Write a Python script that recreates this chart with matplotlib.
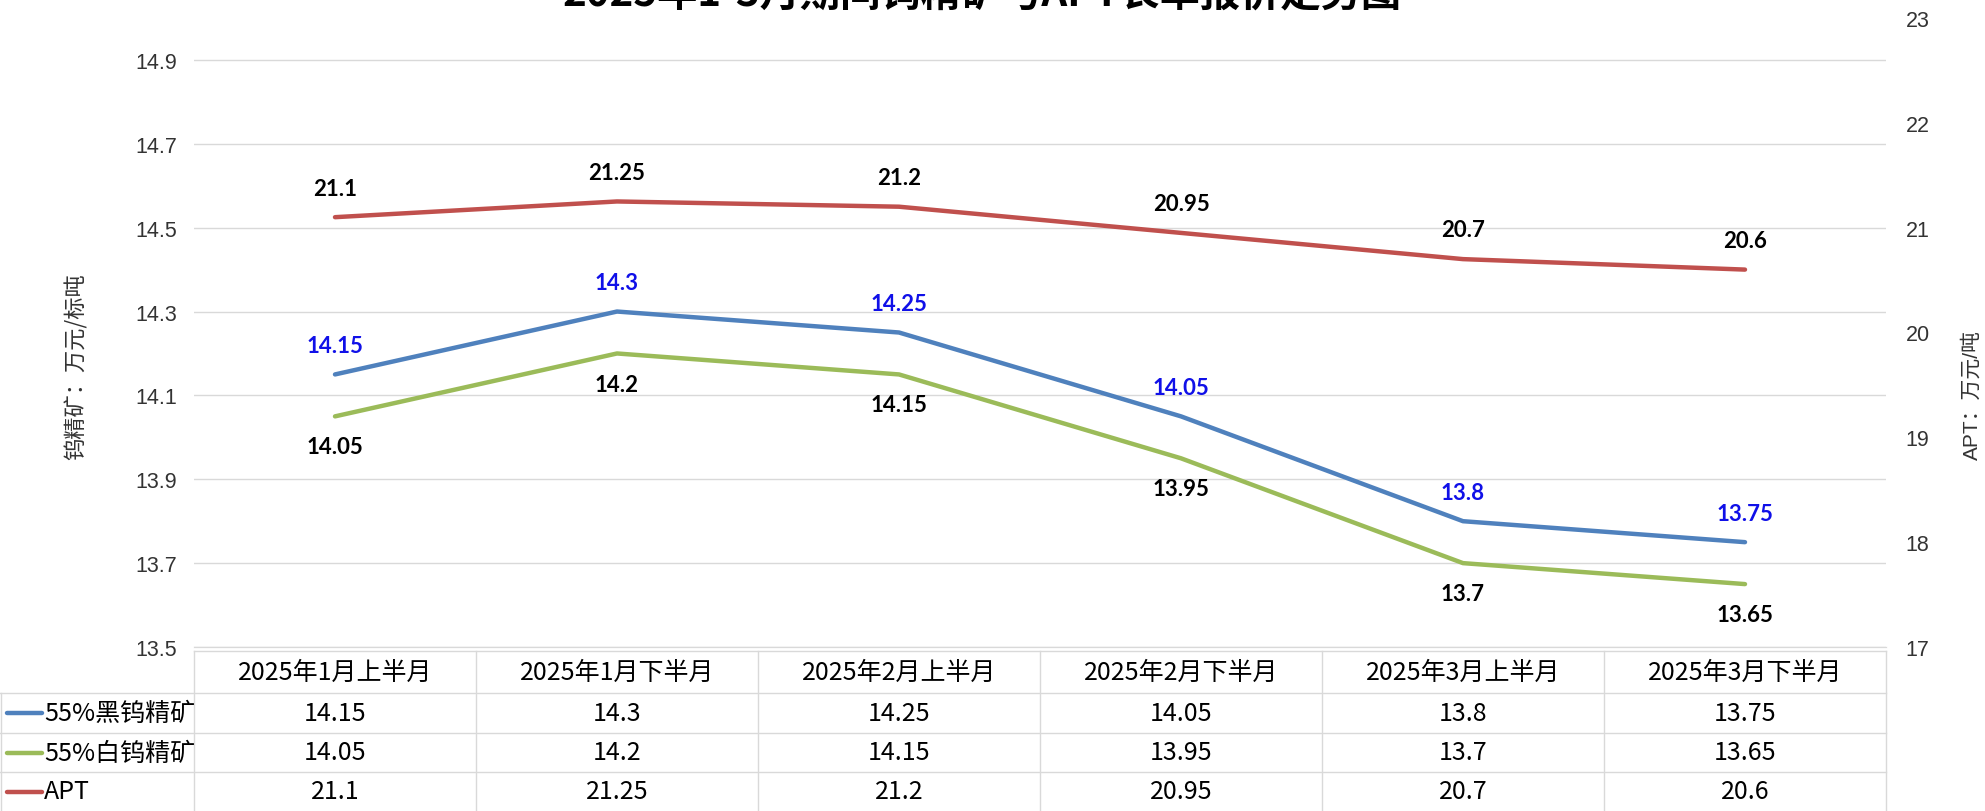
import matplotlib.pyplot as plt
from matplotlib.lines import Line2D
from matplotlib.transforms import blended_transform_factory

plt.rcParams['font.family'] = ['Liberation Sans Narrow', 'Noto Sans CJK SC', 'DejaVu Sans']

# data
periods = ['2025年1月上半月', '2025年1月下半月', '2025年2月上半月',
           '2025年2月下半月', '2025年3月上半月', '2025年3月下半月']
names = ['55%黑钨精矿', '55%白钨精矿', 'APT']
black_w = [14.15, 14.3, 14.25, 14.05, 13.8, 13.75]
white_w = [14.05, 14.2, 14.15, 13.95, 13.7, 13.65]
apt = [21.1, 21.25, 21.2, 20.95, 20.7, 20.6]
left_ticks = [13.5, 13.7, 13.9, 14.1, 14.3, 14.5, 14.7, 14.9]
right_ticks = [17, 18, 19, 20, 21, 22, 23]

colors = ['#4F81BD', '#9BBB59', '#C0504D']
grid_c = '#D9D9D9'

W, H = 1985, 812
fig = plt.figure(figsize=(W / 100, H / 100), dpi=100)
L, R, T, B = 194, 1886, 19, 648
ax = fig.add_axes([L / W, 1 - B / H, (R - L) / W, (B - T) / H])
ax2 = ax.twinx()

n = len(periods)
x = list(range(n))

ax.plot(x, black_w, color=colors[0], lw=3.2, solid_capstyle='round', zorder=3)
ax.plot(x, white_w, color=colors[1], lw=3.2, solid_capstyle='round', zorder=3)
ax2.plot(x, apt, color=colors[2], lw=3.2, solid_capstyle='round', zorder=3)

lab_font = dict(family=['Lato', 'DejaVu Sans'], fontsize=16, fontweight='bold')
for i in x:
    ax.annotate(f'{black_w[i]:g}', (i, black_w[i]), xytext=(0, 21), textcoords='offset points',
                ha='center', va='center', color='#1010E8', **lab_font)
    ax.annotate(f'{white_w[i]:g}', (i, white_w[i]), xytext=(0, -22), textcoords='offset points',
                ha='center', va='center', color='black', **lab_font)
    ax2.annotate(f'{apt[i]:g}', (i, apt[i]), xytext=(0, 21), textcoords='offset points',
                 ha='center', va='center', color='black', **lab_font)

ax.set_xlim(-0.5, n - 0.5)
ax.set_ylim(13.5, 15.0)
ax2.set_ylim(17, 23)
ax.set_xticks([])
ax.set_yticks(left_ticks)
ax.set_yticklabels([f'{v:g}' for v in left_ticks], family='Liberation Sans', fontsize=15.5, color='#333333')
ax2.set_yticks(right_ticks)
ax2.set_yticklabels([str(v) for v in right_ticks], family='Liberation Sans', fontsize=15.5, color='#333333')
ax.tick_params(axis='y', length=0, pad=12)
ax2.tick_params(axis='y', length=0, pad=14)
ax.grid(axis='y', color=grid_c, lw=1)
ax.set_axisbelow(True)
for a in (ax, ax2):
    for s in ('left', 'right', 'top'):
        a.spines[s].set_visible(False)
    a.spines['bottom'].set_color(grid_c)

# axis titles
fig.text(76 / W, 1 - 367 / H, '钨精矿：万元/标吨', rotation=90, ha='center', va='center',
         family=['Noto Sans CJK SC'], fontsize=16, color='#333333')
fig.text(1972 / W, 1 - 395 / H, 'APT：万元/吨', rotation=90, ha='center', va='center',
         family=['Liberation Sans', 'Noto Sans CJK SC'], fontsize=15, color='#333333')

# title (cut off at the top like the reference)
fig.text(982 / W, 1 - 15 / H, '2025年1-3月期间钨精矿与APT长单报价走势图', ha='center', va='bottom',
         family=['Noto Sans CJK SC'], fontsize=29, fontweight='bold', color='black')

# data table under the chart
tr = blended_transform_factory(ax.transData, fig.transFigure)
fy = lambda p: 1 - p / H
tbl_top = 652
rows = [694, 734, 773, 812]
ax.add_line(Line2D([-0.5, n - 0.5], [fy(tbl_top)] * 2, transform=tr, clip_on=False, color=grid_c, lw=1))
for p in rows[:-1]:
    fig.add_artist(Line2D([0, R / W], [fy(p)] * 2, color=grid_c, lw=1))
for i in range(n + 1):
    ax.add_line(Line2D([i - 0.5, i - 0.5], [fy(tbl_top), 0], transform=tr, clip_on=False, color=grid_c, lw=1))
fig.add_artist(Line2D([1 / W, 1 / W], [fy(rows[0]), 0], color=grid_c, lw=1))

tfont = dict(fontsize=18, color='black')
for i in x:
    ax.text(i, fy((tbl_top + rows[0]) / 2), periods[i], transform=tr, ha='center', va='center', **tfont)
table_vals = [black_w, white_w, apt]
for r, vals in enumerate(table_vals):
    yc = fy((rows[r] + rows[r + 1]) / 2)
    for i in x:
        ax.text(i, yc, f'{vals[i]:g}', transform=tr, ha='center', va='center', **tfont)
    fig.add_artist(Line2D([7 / W, 42 / W], [yc] * 2, color=colors[r], lw=3.2, solid_capstyle='round'))
    fig.text(44 / W, yc, names[r], ha='left', va='center', **tfont)

fig.savefig('out.png', dpi=100)
